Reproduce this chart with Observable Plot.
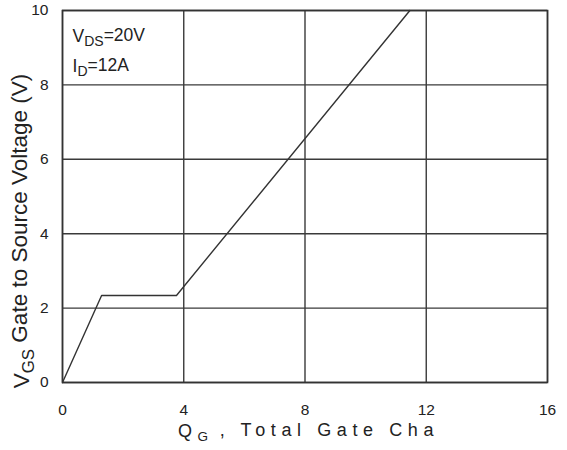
<!DOCTYPE html>
<html>
<head>
<meta charset="utf-8">
<script src="https://cdn.jsdelivr.net/npm/d3@7"></script>
<script src="https://cdn.jsdelivr.net/npm/@observablehq/plot@0.6"></script>
<style>
  html, body { margin: 0; padding: 0; background: #fff; }
  svg { font-family: "Liberation Sans", Arial, sans-serif; }
</style>
</head>
<body>
<div id="chart"></div>
<script>
// Gate charge curve (Qg in nC, Vgs in V)
const qg  = [0, 1.29, 3.76, 11.46];
const vgs = [0, 2.34, 2.34, 10];
const xTicks = [0, 4, 8, 12, 16];
const yTicks = [0, 2, 4, 6, 8, 10];
const notes = [
  {x: 0.33, y: 9.3, main: "V", sub: "DS", rest: "=20V"},
  {x: 0.33, y: 8.5, main: "I", sub: "D", rest: "=12A"}
];

const data = qg.map((q, i) => ({q, v: vgs[i]}));
const gridColor = "#3a3a3a";

const plot = Plot.plot({
  width: 567,
  height: 450,
  marginLeft: 62,
  marginRight: 20,
  marginTop: 10,
  marginBottom: 68,
  style: {fontFamily: "'Liberation Sans', Arial, sans-serif", fontSize: "15.5px", color: "#222", background: "#fff"},
  x: {domain: [0, 16], ticks: xTicks},
  y: {domain: [0, 10], ticks: yTicks},
  marks: [
    Plot.ruleX(xTicks, {stroke: gridColor, strokeWidth: 1.4}),
    Plot.ruleY(yTicks, {stroke: gridColor, strokeWidth: 1.4}),
    Plot.frame({stroke: "#333", strokeWidth: 1.6}),
    Plot.line(data, {x: "q", y: "v", stroke: "#333", strokeWidth: 1.4}),
    Plot.axisX(xTicks, {tickSize: 0, tickPadding: 21, fontSize: 15.5, label: null}),
    Plot.axisY(yTicks, {tickSize: 0, tickPadding: 14, fontSize: 15.5, label: null}),
    Plot.text(notes, {x: "x", y: "y", text: d => d.main + d.sub + d.rest, textAnchor: "start", fontSize: 17.5, fill: "#222", className: "note"})
  ]
});

document.getElementById("chart").appendChild(plot);

// Add subscripts to the annotation texts
const svg = d3.select(plot);
svg.selectAll("g.note text").each(function(d, i) {
  const n = notes[i];
  const t = d3.select(this);
  t.text(null);
  t.append("tspan").text(n.main);
  t.append("tspan").attr("dy", "0.3em").attr("font-size", "0.8em").text(n.sub);
  t.append("tspan").attr("dy", "-0.3em").text(n.rest);
});

// Axis titles
const xl = svg.append("text")
  .attr("x", 178).attr("y", 437)
  .attr("text-anchor", "start")
  .attr("font-size", 18).attr("fill", "#222")
  .attr("letter-spacing", "5.6px");
xl.append("tspan").text("Q");
xl.append("tspan").attr("dy", "0.3em").attr("font-size", "0.75em").attr("letter-spacing", "1px").text("G");
xl.append("tspan").attr("dy", "-0.3em").text(" , Total Gate Cha");

const yl = svg.append("text")
  .attr("transform", "translate(29,231) rotate(-90)")
  .attr("text-anchor", "middle")
  .attr("font-size", 22.5).attr("fill", "#222");
yl.append("tspan").text("V");
yl.append("tspan").attr("dy", "0.3em").attr("font-size", "0.75em").text("GS");
yl.append("tspan").attr("dy", "-0.3em").text(" Gate to Source Voltage (V)");
</script>
</body>
</html>
